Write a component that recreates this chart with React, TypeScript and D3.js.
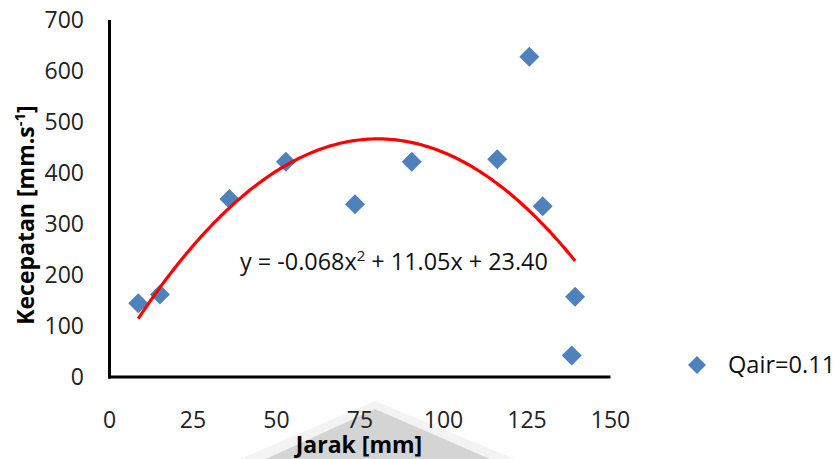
import React from "react";
import * as d3 from "d3";

const jarak = [8.6, 15.1, 35.9, 52.8, 73.5, 90.5, 116.1, 125.7, 129.7, 139.4, 138.4];
const kecepatan = [144.5, 162, 349, 422, 338.6, 422, 427, 628, 335, 157.5, 42];
const xTicks = [0, 25, 50, 75, 100, 125, 150];
const yTicks = [0, 100, 200, 300, 400, 500, 600, 700];
const seriesName = "Qair=0.11";
const xTitle = "Jarak [mm]";

// polynomial (order 2) least-squares fit computed from the data
function fitQuadratic(xs: number[], ys: number[]) {
  const n = xs.length;
  let s1 = 0, s2 = 0, s3 = 0, s4 = 0, t0 = 0, t1 = 0, t2 = 0;
  for (let i = 0; i < n; i++) {
    const x = xs[i], y = ys[i];
    s1 += x; s2 += x * x; s3 += x ** 3; s4 += x ** 4;
    t0 += y; t1 += x * y; t2 += x * x * y;
  }
  const M = [
    [s4, s3, s2, t2],
    [s3, s2, s1, t1],
    [s2, s1, n, t0],
  ];
  for (let i = 0; i < 3; i++) {
    for (let k = i + 1; k < 3; k++) {
      const f = M[k][i] / M[i][i];
      for (let j = i; j < 4; j++) M[k][j] -= f * M[i][j];
    }
  }
  const sol = [0, 0, 0];
  for (let i = 2; i >= 0; i--) {
    let s = M[i][3];
    for (let j = i + 1; j < 3; j++) s -= M[i][j] * sol[j];
    sol[i] = s / M[i][i];
  }
  return sol; // a, b, c
}

export default function App() {
  const W = 838, H = 459;
  const x = d3.scaleLinear().domain([0, 150]).range([109.5, 610.5]);
  const y = d3.scaleLinear().domain([0, 700]).range([377, 20]);
  const [a, b, c] = fitQuadratic(jarak, kecepatan);
  const xmin = d3.min(jarak)!, xmax = d3.max(jarak)!;
  const curvePts = d3.range(0, 201).map((i) => {
    const xv = xmin + ((xmax - xmin) * i) / 200;
    return [xv, a * xv * xv + b * xv + c] as [number, number];
  });
  const line = d3.line<[number, number]>().x((d) => x(d[0])).y((d) => y(d[1]));
  const diamond = (cx: number, cy: number, r: number) =>
    `M${cx},${cy - r}L${cx + r},${cy}L${cx},${cy + r}L${cx - r},${cy}Z`;
  const font = "'Open Sans', 'Liberation Sans', sans-serif";
  const blue = "#4f81bd";

  return (
    <svg width={W} height={H} style={{ position: "absolute", left: 0, top: 0, background: "#fff" }} fontFamily={font}>
      <rect width={W} height={H} fill="#fff" />
      {/* background watermark */}
      <polygon points="240,459 375,401 515,459" fill="#f3f3f3" />
      <polygon points="266,459 375,409 490,459" fill="#d4d4d4" />
      {/* axes */}
      <line x1={x(0)} x2={x(0)} y1={y(700)} y2={y(0) + 1.5} stroke="#000" strokeWidth={3} />
      <line x1={x(0) - 1.5} x2={x(150)} y1={y(0)} y2={y(0)} stroke="#000" strokeWidth={3} />
      {yTicks.map((t) => (
        <text key={"y" + t} x={84} y={y(t)} dy="0.35em" textAnchor="end" fontSize={23} fill="#222">
          {t}
        </text>
      ))}
      {xTicks.map((t) => (
        <text key={"x" + t} x={x(t)} y={428} textAnchor="middle" fontSize={23} fill="#222">
          {t}
        </text>
      ))}
      <text x={359} y={453} textAnchor="middle" fontSize={23} fontWeight="bold" fill="#000">
        {xTitle}
      </text>
      <text transform="translate(34,215) rotate(-90)" textAnchor="middle" fontSize={23} fontWeight="bold" fill="#000">
        Kecepatan [mm.s
        <tspan fontSize={15} dy={-9}>-1</tspan>
        <tspan dy={9}>]</tspan>
      </text>
      {/* points */}
      {jarak.map((xv, i) => (
        <path key={"p" + i} d={diamond(x(xv), y(kecepatan[i]), 10)} fill={blue} />
      ))}
      {/* trendline */}
      <path d={line(curvePts)!} fill="none" stroke="#ff0000" strokeWidth={3.2} />
      <text x={240} y={270} fontSize={23.4} fill="#111">
        y = -0.068x<tspan fontSize={15} dy={-9}>2</tspan>
        <tspan dy={9}> + 11.05x + 23.40</tspan>
      </text>
      {/* legend */}
      <path d={diamond(697, 365, 9)} fill={blue} />
      <text x={728} y={373} fontSize={23.6} fill="#111">
        {seriesName}
      </text>
    </svg>
  );
}
